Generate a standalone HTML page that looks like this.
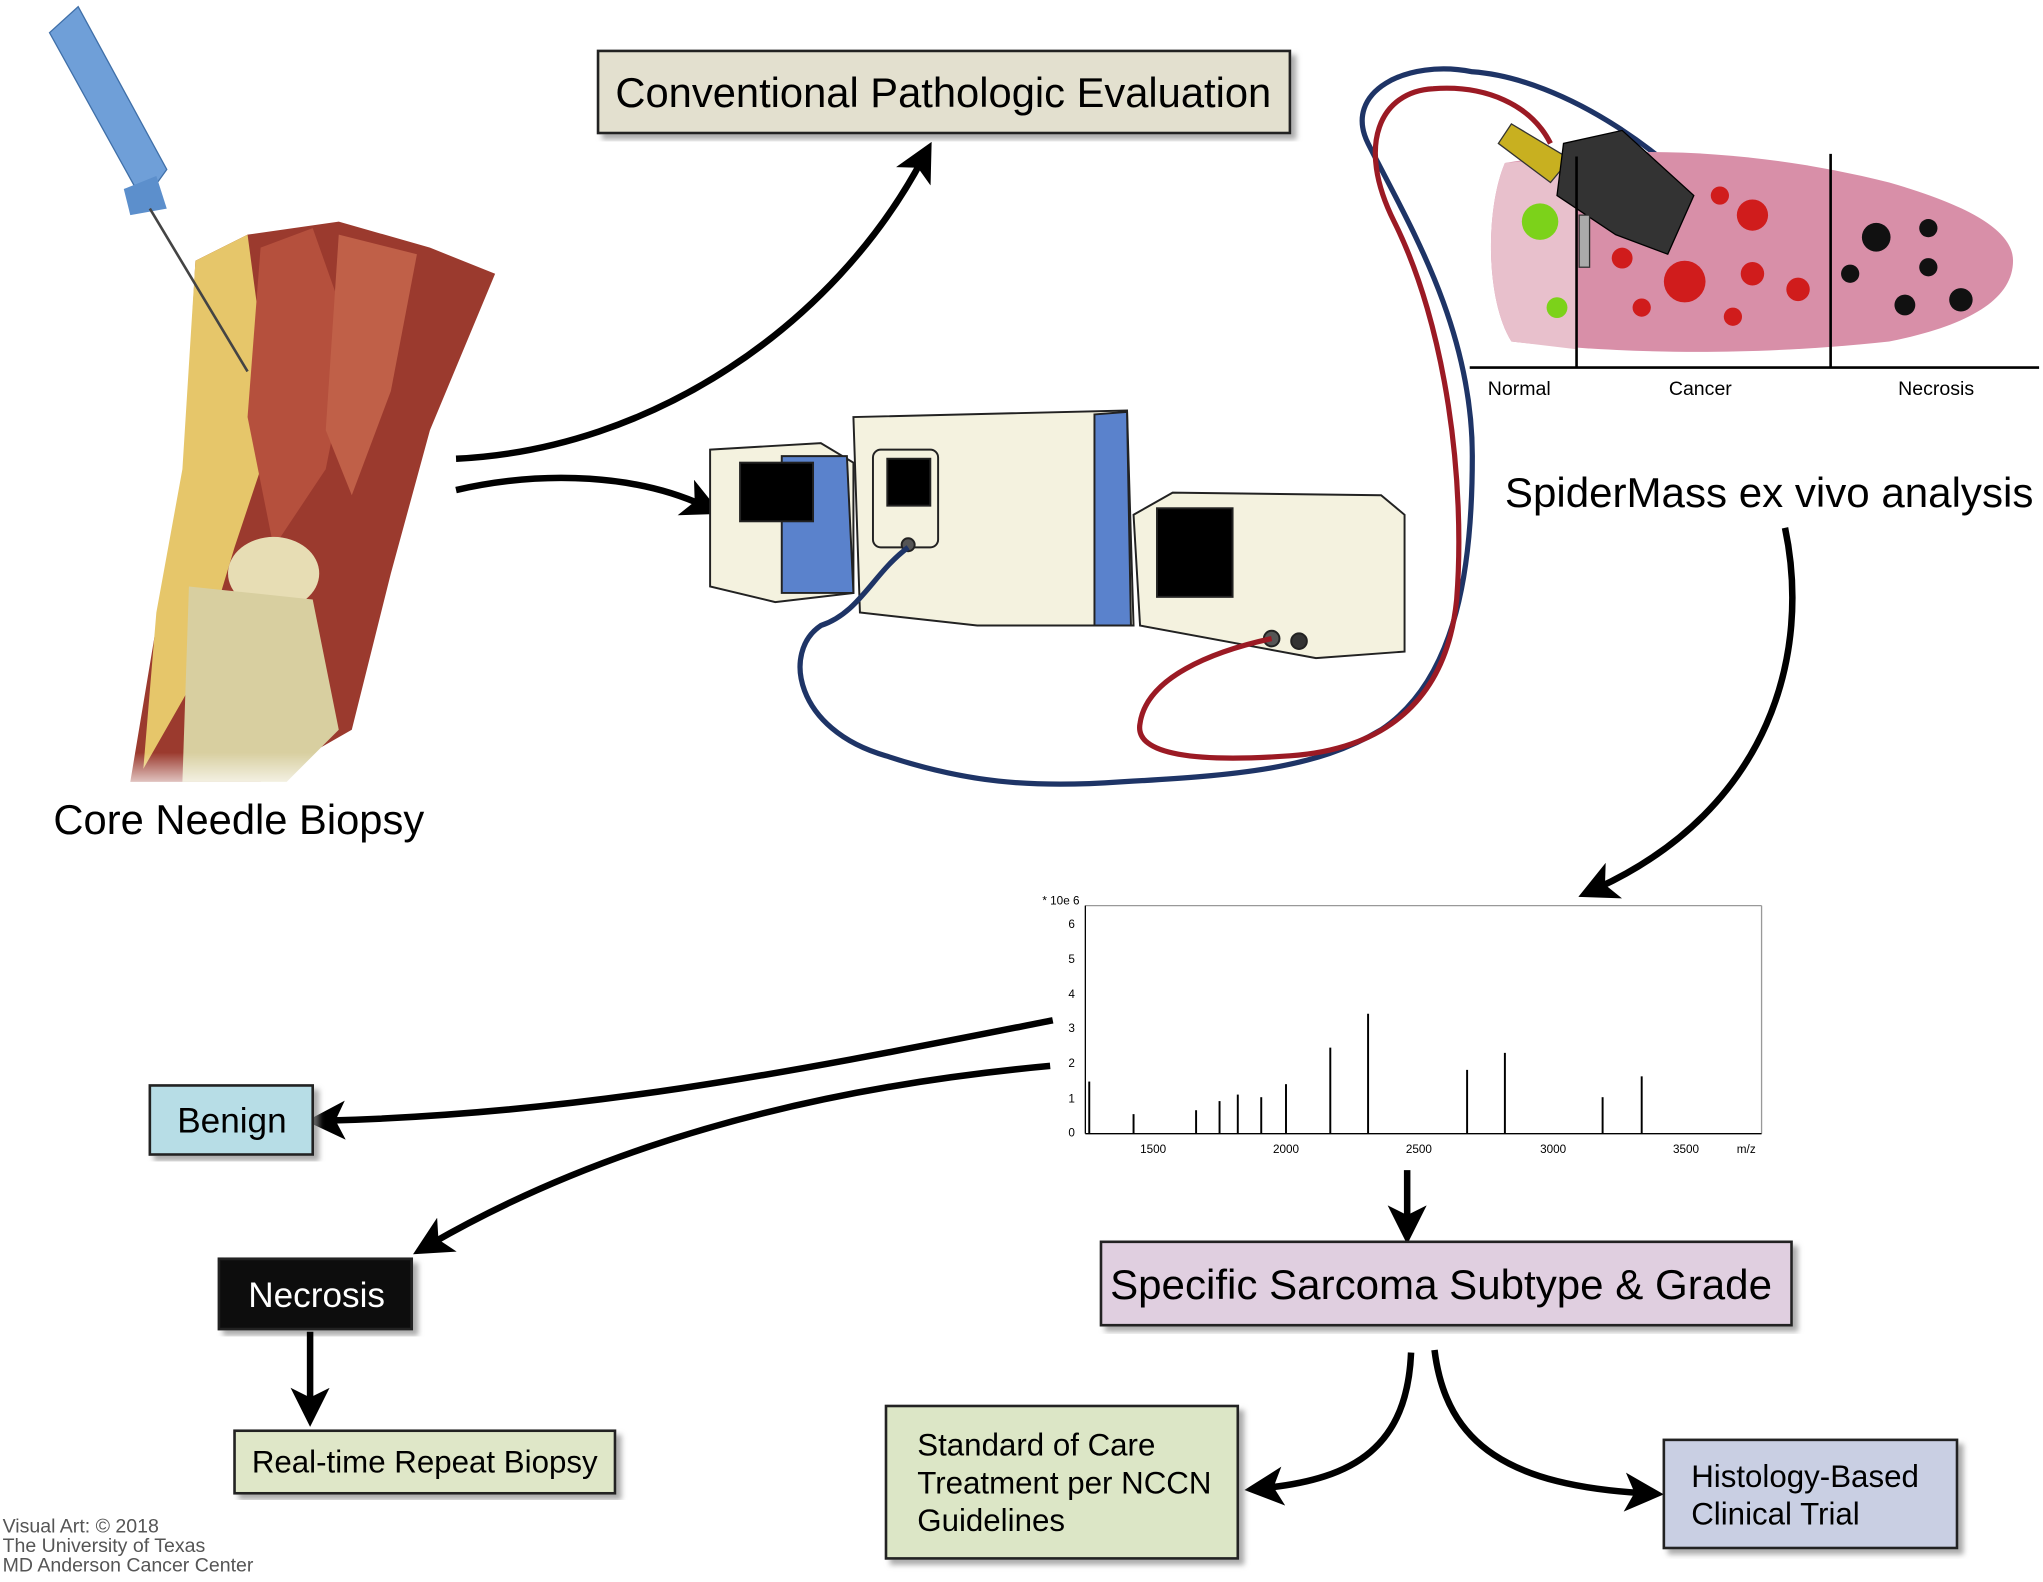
<!DOCTYPE html>
<html><head><meta charset="utf-8"><style>
html,body{margin:0;padding:0;background:#fff;}
svg{display:block;}
text{font-family:"Liberation Sans",sans-serif;}
</style></head><body>
<svg width="2043" height="1582" viewBox="0 0 1568 1214" xmlns="http://www.w3.org/2000/svg">
<defs>
<marker id="ah" markerWidth="6" markerHeight="6" refX="3" refY="3" orient="auto" markerUnits="strokeWidth">
<path d="M0,0 L6,3 L0,6 L1.5,3 z" fill="#000"/></marker>
<filter id="sh"><feDropShadow dx="4" dy="4" stdDeviation="2" flood-color="#888" flood-opacity="0.7"/></filter>
<linearGradient id="fade" x1="0" y1="0" x2="0" y2="1"><stop offset="0.75" stop-color="#fff" stop-opacity="0"/><stop offset="1" stop-color="#fff" stop-opacity="1"/></linearGradient>
</defs>

<g>
<path d="M150,200 L190,180 L260,170 L330,190 L380,210 L330,330 L300,440 L270,560 L200,600 L100,600 L120,480 L140,380 Z" fill="#9b3a2e"/>
<path d="M150,200 L190,180 L210,330 L180,420 L150,520 L110,590 L120,470 L140,360 Z" fill="#e6c66a"/>
<path d="M200,190 L240,175 L270,260 L250,360 L210,420 L190,320 Z" fill="#b5503d"/>
<path d="M260,180 L320,195 L300,300 L270,380 L250,330 Z" fill="#c06048"/>
<ellipse cx="210" cy="440" rx="35" ry="28" fill="#e7ddb4"/>
<path d="M145,450 L240,460 L260,560 L220,600 L140,600 Z" fill="#d8cfa0"/>
<rect x="90" y="480" width="300" height="130" fill="url(#fade)"/>
<path d="M38,25 L60,5 L128,130 L110,155 Z" fill="#6f9fd8" stroke="#3f6fa8"/>
<path d="M95,145 L120,135 L128,160 L100,165 Z" fill="#5c8fcc"/>
<line x1="115" y1="160" x2="190" y2="285" stroke="#444" stroke-width="2"/>
</g>
<text x="41" y="640" font-size="32">Core Needle Biopsy</text>

<rect x="459" y="39" width="531" height="63" fill="#e3e0cf" stroke="#222" stroke-width="2" filter="url(#sh)"/>
<text x="724" y="82" font-size="32" text-anchor="middle">Conventional Pathologic Evaluation</text>

<path d="M350,352 C500,345 640,250 708,122" fill="none" stroke="#000" stroke-width="5" marker-end="url(#ah)"/>
<path d="M350,376 C420,360 490,365 540,388" fill="none" stroke="#000" stroke-width="5" marker-end="url(#ah)"/>

<g stroke="#222" stroke-width="1.5">
<path d="M545,345 L630,340 L655,355 L655,455 L595,462 L545,450 Z" fill="#f4f2df"/>
<path d="M600,350 L650,350 L655,455 L600,455 Z" fill="#5a82cc"/>
<rect x="568" y="355" width="56" height="45" fill="#000"/>
<path d="M655,320 L865,315 L870,480 L750,480 L660,470 Z" fill="#f4f2df"/>
<path d="M840,318 L865,316 L868,480 L840,480 Z" fill="#5a82cc"/>
<rect x="670" y="345" width="50" height="75" rx="6" fill="#f4f2df"/>
<rect x="681" y="352" width="33" height="36" fill="#000"/>
<circle cx="697" cy="418" r="5" fill="#555"/>
<path d="M870,395 L900,378 L1060,380 L1078,395 L1078,500 L1010,505 L875,480 Z" fill="#f4f2df"/>
<rect x="888" y="390" width="58" height="68" fill="#000"/>
<circle cx="976" cy="490" r="6" fill="#555"/><circle cx="997" cy="492" r="6" fill="#333"/>
</g>
<path d="M697,420 C670,440 660,470 630,480 C600,500 610,560 680,580 C740,600 790,605 860,600 C950,595 1010,590 1060,560 C1120,520 1130,430 1130,350 C1130,250 1080,170 1050,110 C1030,70 1080,45 1130,55 C1200,60 1290,120 1340,190" fill="none" stroke="#1e3466" stroke-width="4"/>
<path d="M976,490 C930,500 880,520 875,555 C870,580 920,585 990,580 C1060,575 1110,540 1118,460 C1125,370 1110,250 1070,170 C1040,110 1060,70 1100,68 C1140,65 1175,80 1190,110" fill="none" stroke="#9b1a24" stroke-width="4"/>

<path d="M1155,125 C1250,110 1350,115 1450,140 C1520,160 1545,180 1545,200 C1545,230 1510,250 1450,262 C1330,275 1230,270 1160,262 C1140,230 1140,160 1155,125 Z" fill="#d88fa8"/>
<path d="M1155,125 L1210,120 L1210,268 L1160,262 C1140,230 1140,160 1155,125 Z" fill="#e8c0cc"/>
<g fill="#d01c1c"><circle cx="1245" cy="198" r="8"/><circle cx="1293" cy="216" r="16"/><circle cx="1345" cy="165" r="12"/><circle cx="1320" cy="150" r="7"/><circle cx="1345" cy="210" r="9"/><circle cx="1380" cy="222" r="9"/><circle cx="1260" cy="236" r="7"/><circle cx="1330" cy="243" r="7"/></g>
<g fill="#7cd21a"><circle cx="1182" cy="170" r="14"/><circle cx="1195" cy="236" r="8"/></g>
<g fill="#111"><circle cx="1440" cy="182" r="11"/><circle cx="1480" cy="175" r="7"/><circle cx="1420" cy="210" r="7"/><circle cx="1480" cy="205" r="7"/><circle cx="1505" cy="230" r="9"/><circle cx="1462" cy="234" r="8"/></g>
<path d="M1160,95 L1205,122 L1190,140 L1150,110 Z" fill="#c8b020" stroke="#333"/>
<path d="M1200,110 L1245,100 L1300,150 L1280,195 L1240,180 L1195,150 Z" fill="#333" stroke="#000"/>
<rect x="1212" y="165" width="8" height="40" fill="#aaa" stroke="#333"/>
<line x1="1128" y1="282" x2="1565" y2="282" stroke="#000" stroke-width="2"/>
<line x1="1210" y1="120" x2="1210" y2="282" stroke="#000" stroke-width="2"/>
<line x1="1405" y1="118" x2="1405" y2="282" stroke="#000" stroke-width="2"/>
<text x="1166" y="303" font-size="15" text-anchor="middle">Normal</text>
<text x="1305" y="303" font-size="15" text-anchor="middle">Cancer</text>
<text x="1486" y="303" font-size="15" text-anchor="middle">Necrosis</text>
<text x="1155" y="389" font-size="32.3">SpiderMass ex vivo analysis</text>
<path d="M1370,405 C1390,500 1360,620 1225,682" fill="none" stroke="#000" stroke-width="5" marker-end="url(#ah)"/>

<g font-size="9">
<text x="800" y="694">* 10e 6</text>
<line x1="833" y1="695" x2="1352" y2="695" stroke="#999"/>
<line x1="1352" y1="695" x2="1352" y2="870" stroke="#999"/>
<line x1="833" y1="695" x2="833" y2="870" stroke="#000"/>
<line x1="833" y1="870" x2="1352" y2="870" stroke="#000"/>
<text x="820" y="712">6</text><text x="820" y="739">5</text><text x="820" y="766">4</text><text x="820" y="792">3</text><text x="820" y="819">2</text><text x="820" y="846">1</text><text x="820" y="872">0</text>
<text x="875" y="885">1500</text><text x="977" y="885">2000</text><text x="1079" y="885">2500</text><text x="1182" y="885">3000</text><text x="1284" y="885">3500</text><text x="1333" y="885">m/z</text>
</g>
<g stroke="#000" stroke-width="1.5">
<line x1="836" y1="870" x2="836" y2="830"/><line x1="870" y1="870" x2="870" y2="855"/><line x1="918" y1="870" x2="918" y2="852"/>
<line x1="936" y1="870" x2="936" y2="845"/><line x1="950" y1="870" x2="950" y2="840"/><line x1="968" y1="870" x2="968" y2="842"/>
<line x1="987" y1="870" x2="987" y2="832"/><line x1="1021" y1="870" x2="1021" y2="804"/><line x1="1050" y1="870" x2="1050" y2="778"/>
<line x1="1126" y1="870" x2="1126" y2="821"/><line x1="1155" y1="870" x2="1155" y2="808"/><line x1="1230" y1="870" x2="1230" y2="842"/><line x1="1260" y1="870" x2="1260" y2="826"/>
</g>
<path d="M808,783 C620,820 450,855 250,860" fill="none" stroke="#000" stroke-width="5" marker-end="url(#ah)"/>
<path d="M806,818 C620,835 460,880 330,955" fill="none" stroke="#000" stroke-width="5" marker-end="url(#ah)"/>
<path d="M1080,898 L1080,940" fill="none" stroke="#000" stroke-width="5" marker-end="url(#ah)"/>

<rect x="115" y="833" width="125" height="53" fill="#b7dde6" stroke="#222" stroke-width="2" filter="url(#sh)"/>
<text x="178" y="869" font-size="27" text-anchor="middle">Benign</text>
<rect x="168" y="966" width="148" height="54" fill="#111" stroke="#222" stroke-width="2" filter="url(#sh)"/>
<text x="243" y="1003" font-size="27" text-anchor="middle" fill="#fff">Necrosis</text>
<path d="M238,1022 L238,1080" fill="none" stroke="#000" stroke-width="5" marker-end="url(#ah)"/>
<rect x="180" y="1098" width="292" height="48" fill="#dfe7c8" stroke="#222" stroke-width="2" filter="url(#sh)"/>
<text x="326" y="1130" font-size="24" text-anchor="middle">Real-time Repeat Biopsy</text>

<rect x="845" y="953" width="530" height="64" fill="#e0cfe0" stroke="#222" stroke-width="2" filter="url(#sh)"/>
<text x="1106" y="997" font-size="32.3" text-anchor="middle">Specific Sarcoma Subtype &amp; Grade</text>
<path d="M1083,1038 C1080,1110 1040,1135 970,1142" fill="none" stroke="#000" stroke-width="5" marker-end="url(#ah)"/>
<path d="M1101,1036 C1110,1110 1160,1140 1262,1146" fill="none" stroke="#000" stroke-width="5" marker-end="url(#ah)"/>
<rect x="680" y="1079" width="270" height="117" fill="#dce6c6" stroke="#222" stroke-width="2" filter="url(#sh)"/>
<text font-size="24"><tspan x="704" y="1117">Standard of Care</tspan><tspan x="704" y="1146">Treatment per NCCN</tspan><tspan x="704" y="1175">Guidelines</tspan></text>
<rect x="1277" y="1105" width="225" height="83" fill="#c9cfe3" stroke="#222" stroke-width="2" filter="url(#sh)"/>
<text font-size="24"><tspan x="1298" y="1141">Histology-Based</tspan><tspan x="1298" y="1170">Clinical Trial</tspan></text>

<text font-size="15" fill="#555"><tspan x="2" y="1176">Visual Art: © 2018</tspan><tspan x="2" y="1191">The University of Texas</tspan><tspan x="2" y="1206">MD Anderson Cancer Center</tspan></text>
</svg>
</body></html>
